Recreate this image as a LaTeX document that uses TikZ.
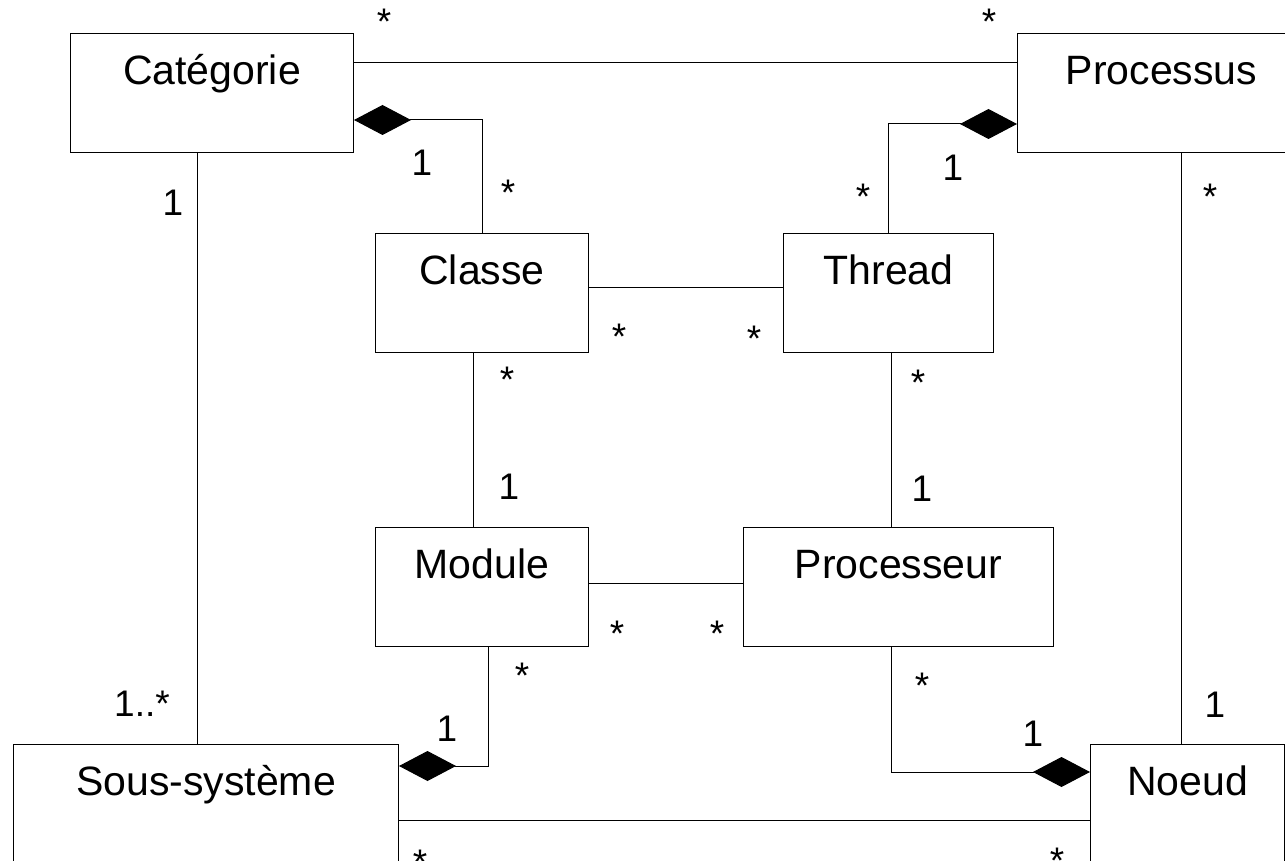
\documentclass[tikz,border=0pt]{standalone}
\usepackage{fontspec}
\setmainfont{Liberation Sans}
\usepackage{tikz}
\usetikzlibrary{arrows.meta}

\begin{document}
\begin{tikzpicture}[x=0.5pt, y=-0.5pt, line width=0.5pt,
        classe/.style={draw, anchor=north west, inner sep=0pt, minimum height=59.5pt,
            text height=25.5pt, text depth=34pt, font=\fontsize{20.5}{24}\selectfont},
        mult/.style={anchor=base, inner sep=0pt, font=\fontsize{18.5}{22}\selectfont},
        compo/.style={{Diamond[length=28.5pt, width=15pt]}-}]
        \useasboundingbox (0, 0) rectangle (1285, 861);

        \node[classe, minimum width=141.5pt] (cat) at (70, 33) {Catégorie};
        \node[classe, minimum width=144pt] (proc) at (1017, 33) {Processus};
        \node[classe, minimum width=106.5pt] (cls) at (375, 233) {Classe};
        \node[classe, minimum width=105pt] (thr) at (783, 233) {Thread};
        \node[classe, minimum width=106.5pt] (mod) at (375, 527) {Module};
        \node[classe, minimum width=155pt] (cpu) at (743, 527) {Processeur};
        \node[classe, minimum width=192.5pt] (sous) at (13, 744) {Sous-système};
        \node[classe, minimum width=97pt] (nd) at (1090, 744) {Noeud};

        \coordinate (xcs) at (197, 0);
        \coordinate (xpn) at (1181, 0);
        \coordinate (xcm) at (473, 0);
        \coordinate (xtc) at (891, 0);
        \coordinate (xms) at (488, 0);

        \draw ([yshift=-15pt]cat.north east) to ([yshift=-15pt]proc.north west)
            ([yshift=-27.5pt]cls.north east) to ([yshift=-27.5pt]thr.north west)
            ([yshift=-28pt]mod.north east) to ([yshift=-28pt]cpu.north west)
            ([yshift=-38pt]sous.north east) to ([yshift=-38pt]nd.north west)
            (cat.south -| xcs) to (sous.north -| xcs)
            (proc.south -| xpn) to (nd.north -| xpn)
            (cls.south -| xcm) to (mod.north -| xcm)
            (thr.south -| xtc) to (cpu.north -| xtc);

        \draw[compo] ([yshift=-43.5pt]cat.north east) -| (cls.north);
        \draw[compo] ([yshift=-45.5pt]proc.north west) -| (thr.north);
        \draw[compo] ([yshift=-11pt]sous.north east) -| (mod.south -| xms);
        \draw[compo] ([yshift=-14pt]nd.north west) -| (cpu.south -| xtc);

        % multiplicites
        \node[mult] (m1) at (384, 35) {*};
        \node[mult] (m2) at (989, 35) {*};
        \node[mult] (m3) at (422, 176) {1};
        \node[mult] (m4) at (508, 206) {*};
        \node[mult] (m5) at (173, 216) {1};
        \node[mult] (m6) at (953, 181) {1};
        \node[mult] (m7) at (863, 210) {*};
        \node[mult] (m8) at (1210, 210) {*};
        \node[mult] (m9) at (619, 350) {*};
        \node[mult] (m10) at (754, 351) {*};
        \node[mult] (m11) at (507, 392) {*};
        \node[mult] (m12) at (918, 395) {*};
        \node[mult] (m13) at (509, 499) {1};
        \node[mult] (m14) at (922, 501) {1};
        \node[mult] (m15) at (617, 646) {*};
        \node[mult] (m16) at (717, 646) {*};
        \node[mult] (m17) at (522, 688) {*};
        \node[mult] (m18) at (922, 698) {*};
        \node[mult] (m19) at (142, 716) {1..*};
        \node[mult] (m20) at (447, 741) {1};
        \node[mult] (m21) at (1033, 746) {1};
        \node[mult] (m22) at (1215, 717) {1};
        \node[mult] (m23) at (420, 875) {*};
        \node[mult] (m24) at (1057, 873) {*};
    \end{tikzpicture}
\end{document}
